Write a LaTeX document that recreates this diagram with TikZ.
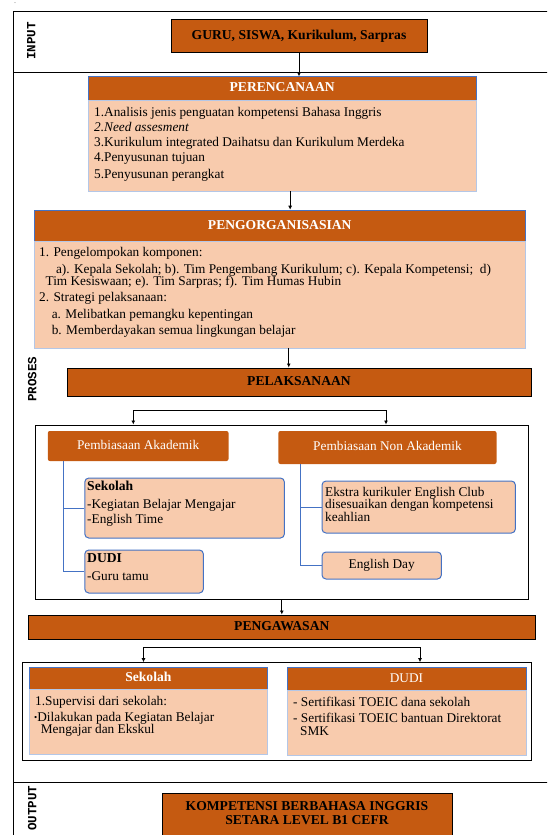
\documentclass[tikz,border=0pt]{standalone}
\usepackage{fontspec}
\setmainfont{Liberation Serif}
\setmonofont{Liberation Mono}
\usetikzlibrary{arrows.meta,fit}
\definecolor{orng}{HTML}{C55A11}
\definecolor{peach}{HTML}{F8CBAD}
\definecolor{blu}{HTML}{4472C4}
\definecolor{lblu}{HTML}{B4C7E7}
\newcommand{\rf}{\fontsize{13.3}{15}\selectfont}
\newcommand{\bff}{\fontsize{13.6}{15}\selectfont\bfseries}
\begin{document}
\begin{tikzpicture}[x=1pt,y=-1pt,
  every node/.style={font=\rf, text height=9.4pt, text depth=2.8pt, inner sep=0pt},
  frm/.style={draw=black, line width=1pt},
  hdr/.style={fill=orng, draw=blu, line width=.6pt},
  bodyb/.style={fill=peach, draw=lblu, line width=.6pt},
  blk/.style={fill=orng, draw=black, line width=1pt},
  pill/.style={fill=orng, rounded corners=2pt},
  rbox/.style={fill=peach, draw=blu, line width=1pt, rounded corners=4pt},
  tw/.style={text=white, font=\bff},
  twr/.style={text=white},
  tb/.style={font=\bff},
  lbl/.style={anchor=west},
  bl/.style={anchor=west, font=\bff},
  side/.style={rotate=90, font=\ttfamily\bfseries\fontsize{12.5}{14}\selectfont},
  arr/.style={-{Latex[length=4pt,width=4pt]}, line width=.8pt},
  tree/.style={draw=blu, line width=1pt}]
\useasboundingbox (0,0) rectangle (547,835);
\clip (0,0) rectangle (547,835);

% frame
\draw[frm] (560,11.5) -- (13.5,11.5) -- (13.5,850);
\draw[frm] (13.5,72) -- (560,72);
\draw[frm] (13.5,782) -- (560,782);
\node[font=\fontsize{6}{6}\selectfont, text height=, text depth=] (dot) at (15,3) {.};

% section labels
\node[side] (input) at (32,41) {INPUT};
\node[side] (proses) at (33,379) {PROSES};
\node[side] (output) at (33,808) {OUTPUT};

% input
\node[blk, fit={(171,19.3) (427,52.7)}] (guru) {};
\node[tb] (gurut) at (guru.center) {GURU, SISWA, Kurikulum, Sarpras};

% perencanaan
\node[hdr, fit={(88.3,76.7) (476,100)}] (perhead) {};
\node[tw] (perheadt) at (perhead.center) {PERENCANAAN};
\node[bodyb, fit={(88.3,100) (476,191)}] (perbody) {};
\node[lbl] (p1) at (94,112.7) {1.Analisis jenis penguatan kompetensi Bahasa Inggris};
\node[lbl] (p2) at (94,127.7) {\itshape 2.Need assesment};
\node[lbl] (p3) at (94,143.3) {3.Kurikulum integrated Daihatsu dan Kurikulum Merdeka};
\node[lbl] (p4) at (94,158.3) {4.Penyusunan tujuan};
\node[lbl] (p5) at (94,175) {5.Penyusunan perangkat};

% pengorganisasian
\node[hdr, fit={(33.8,210) (525.7,241.7)}] (orghead) {};
\node[tw] (orgheadt) at (orghead.center) {PENGORGANISASIAN};
\node[bodyb, fit={(33.8,241.7) (525.7,348)}] (orgbody) {};
\node[lbl] (o1) at (39,253) {1. Pengelompokan komponen:};
\node[lbl] (o2) at (55.8,270) {a). Kepala Sekolah; b). Tim Pengembang Kurikulum; c). Kepala Kompetensi;\ \ d)};
\node[lbl] (o3) at (45.4,282) {Tim Kesiswaan; e). Tim Sarpras; f). Tim Humas Hubin};
\node[lbl] (o4) at (39,298) {2. Strategi pelaksanaan:};
\node[lbl] (o5) at (51.6,315) {a. Melibatkan pemangku kepentingan};
\node[lbl] (o6) at (51.6,331) {b. Memberdayakan semua lingkungan belajar};

% pelaksanaan
\node[blk, fit={(67,368) (531,396.7)}] (pel) {};
\node[tb] (pelt) at (pel.center) {PELAKSANAAN};
\coordinate (b1l) at (133.3,410);
\coordinate (b1r) at (386,410);
\node[frm, fit={(35,425) (528.6,599)}] (cont1) {};
\node[pill, fit={(47.8,431) (228.5,461)}] (pa) {};
\node[twr] (pat) at (pa.center) {Pembiasaan Akademik};
\node[pill, fit={(278.4,431) (496.5,464)}] (pna) {};
\node[twr] (pnat) at (pna.center) {Pembiasaan Non Akademik};
\node[rbox, fit={(84.8,478) (284.4,538)}] (sek1) {};
\node[bl] (s1a) at (87,487.3) {Sekolah};
\node[lbl] (s1b) at (87,505) {-Kegiatan Belajar Mengajar};
\node[lbl] (s1c) at (87,520) {-English Time};
\node[rbox, fit={(84.8,550) (203.4,593)}] (dudi1) {};
\node[bl] (d1a) at (87,559.3) {DUDI};
\node[lbl] (d1b) at (87,576.7) {-Guru tamu};
\node[rbox, fit={(322,481) (515.4,533)}] (ekstra) {};
\node[lbl] (e1) at (325,492.7) {Ekstra kurikuler English Club};
\node[lbl] (e2) at (325,505) {disesuaikan dengan kompetensi};
\node[lbl] (e3) at (325,518.3) {keahlian};
\node[rbox, fit={(322,552) (441.4,579)}] (eday) {};
\node (edayt) at (eday.center) {English Day};
\coordinate (tl) at (63.9,461);
\coordinate (tr) at (300,464);

% pengawasan
\node[blk, fit={(28,615) (535.6,639)}] (peng) {};
\node[tb] (pengt) at (peng.center) {PENGAWASAN};
\coordinate (b2l) at (143.5,647.3);
\coordinate (b2r) at (420,647.3);
\node[frm, fit={(22,662.7) (531,760.7)}] (cont2) {};
\node[hdr, fit={(29,667.3) (267.7,689.3)}] (sekhead) {};
\node[tw] (sekheadt) at (sekhead.center) {Sekolah};
\node[bodyb, fit={(29,689.3) (267.7,754)}] (sekbody) {};
\node[lbl] (w1) at (35,701.7) {1.Supervisi dari sekolah:};
\node[lbl] (w2) at (34,718) {\fontsize{9}{9}\selectfont\raisebox{1pt}{•}\rf Dilakukan pada Kegiatan Belajar};
\node[lbl] (w3) at (40.7,730) {Mengajar dan Ekskul};
\node[hdr, fit={(287,667.7) (526,690.7)}] (dudihead) {};
\node[twr] (dudiheadt) at (dudihead.center) {DUDI};
\node[bodyb, fit={(287,690.7) (526,755)}] (dudibody) {};
\node[lbl] (x1) at (293,702.7) {- Sertifikasi TOEIC dana sekolah};
\node[lbl] (x2) at (293,719.3) {- Sertifikasi TOEIC bantuan Direktorat};
\node[lbl] (x3) at (300,731.7) {SMK};

% output
\node[blk, fit={(162,793) (452,850)}] (komp) {};
\node[tb] (ka) at (307,807) {KOMPETENSI BERBAHASA INGGRIS};
\node[tb] (kb) at (307,821) {SETARA LEVEL B1 CEFR};

% connectors
\draw[arr] (guru.south) -- (guru.south |- perhead.north);
\draw[arr] ([xshift=8pt]perbody.south) -- ([xshift=8pt]perbody.south |- orghead.north);
\draw[arr] ([xshift=9pt]orgbody.south) -- ([xshift=9pt]orgbody.south |- pel.north);
\draw[line width=.8pt] (b1l) -- (b1r);
\draw[arr] (b1l) -- (b1l |- cont1.north);
\draw[arr] (b1r) -- (b1r |- cont1.north);
\draw[tree] (tl) |- (dudi1.west);
\draw[tree] (tl |- sek1.west) -- (sek1.west);
\draw[tree] (tr) |- (eday.west);
\draw[tree] (tr |- ekstra.west) -- (ekstra.west);
\draw[arr] (cont1.south) -- (cont1.south |- peng.north);
\draw[line width=.8pt] (b2l) -- (b2r);
\draw[arr] (b2l) -- (b2l |- cont2.north);
\draw[arr] (b2r) -- (b2r |- cont2.north);
\end{tikzpicture}
\end{document}
